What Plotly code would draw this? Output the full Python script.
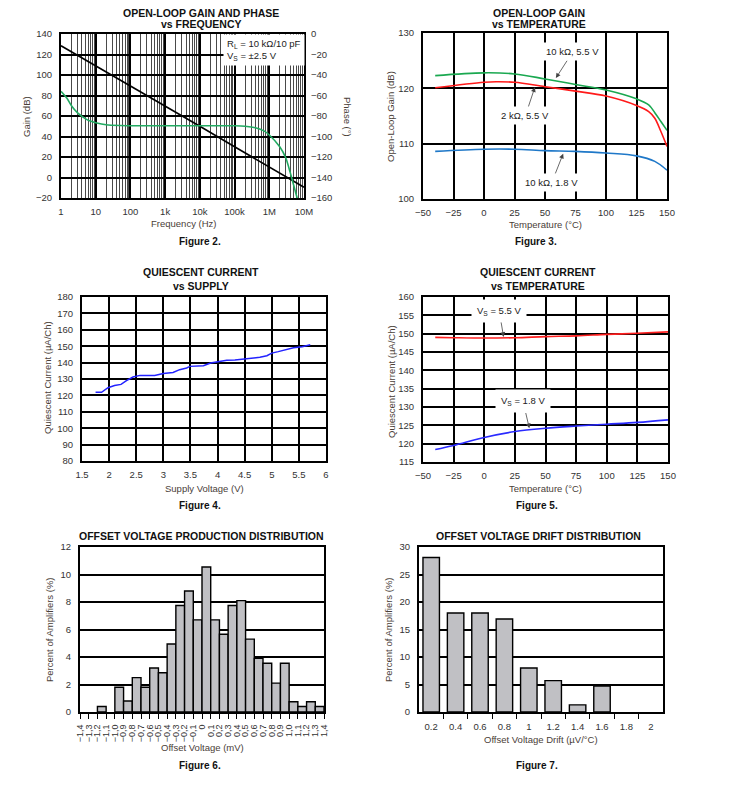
import plotly.graph_objects as go

# page body has an 8 px margin: size the figure to fit inside it and map
# reference pixel coordinates through that offset
OFF = 8
W, H = 732 - 2 * OFF, 802 - 2 * OFF


def X(px):
    return (px - OFF) / W


def Y(py):
    return 1 - (py - OFF) / H


FONT = "Liberation Sans"
TICKC = "#333333"
TITC = "#4a4038"

# ---------------- Figure 2 data ----------------
f2_freq_gain = [1, 10, 100, 1e3, 1e4, 1e5, 1e6, 1e7]
f2_gain = [128.5, 109, 89.5, 69.5, 50, 30, 10.5, -9.5]
f2_freq_phase = [1, 1.5, 2, 3, 5, 7, 10, 20, 50, 100, 1e3, 1e4, 1e5, 2e5,
                 4e5, 7e5, 1e6, 2e6, 3e6, 4e6, 5e6, 6e6, 7e6]
f2_phase = [-56, -63, -70, -77, -82.5, -85, -86.5, -88.5, -89.3, -89.5, -89.5,
            -89.5, -89.5, -90, -91.5, -94.5, -98.5, -110, -121, -135, -147,
            -157, -165]
f2_xticks = [1, 10, 100, 1e3, 1e4, 1e5, 1e6, 1e7]
f2_xticktext = ["1", "10", "100", "1k", "10k", "100k", "1M", "10M"]

# ---------------- Figure 3 data ----------------
f3_temp = [-40, 0, 25, 50, 75, 100, 125, 135, 140, 145, 150]
f3_green = [122.3, 122.8, 122.6, 121.7, 120.7, 119.7, 118.1, 117.0, 115.6, 114.0, 112.4]
f3_red_temp = [-40, 0, 10, 25, 50, 75, 100, 125, 135, 140, 145, 150]
f3_red = [120.1, 121.1, 121.2, 121.1, 120.3, 119.5, 118.6, 116.9, 115.8, 114.6, 112.2, 109.5]
f3_blue_temp = [-40, 0, 25, 50, 75, 100, 125, 140, 150]
f3_blue = [108.6, 109.0, 109.0, 108.75, 108.6, 108.3, 107.8, 106.8, 105.2]

# ---------------- Figure 4 data ----------------
f4_v = [1.75, 1.86, 1.98, 2.10, 2.22, 2.32, 2.44, 2.57, 2.69, 2.84, 3.00, 3.18,
        3.30, 3.43, 3.49, 3.62, 3.74, 3.87, 3.99, 4.17, 4.32, 4.48, 4.63, 4.78,
        4.91, 5.00, 5.12, 5.28, 5.40, 5.56, 5.71]
f4_iq = [121.9, 121.9, 124.7, 126.0, 126.7, 129.0, 131.2, 132.2, 132.2, 132.2,
         133.3, 134.0, 135.7, 136.7, 137.7, 138.1, 138.1, 139.8, 140.4, 141.4,
         141.6, 142.2, 142.4, 143.2, 144.2, 145.8, 146.7, 148.3, 149.1, 149.7, 150.9]

# ---------------- Figure 5 data ----------------
f5_temp = [-40, -25, 0, 25, 50, 75, 100, 125, 150]
f5_55 = [149.0, 148.9, 148.8, 148.9, 149.2, 149.4, 149.8, 150.1, 150.5]
f5_18 = [118.4, 119.5, 121.7, 123.3, 124.2, 124.8, 125.3, 125.8, 126.5]

# ---------------- Figure 6 data ----------------
f6_bin_left = [-1.4, -1.3, -1.2, -1.1, -1.0, -0.9, -0.8, -0.7, -0.6, -0.5, -0.4,
               -0.3, -0.2, -0.1, 0.0, 0.1, 0.2, 0.3, 0.4, 0.5, 0.6, 0.7, 0.8,
               0.9, 1.0, 1.1, 1.2, 1.3]
f6_pct = [0, 0, 0.4, 0, 1.8, 0.8, 2.5, 1.8, 3.2, 2.85, 4.95, 7.75, 8.8, 6.7,
          10.55, 6.7, 5.65, 7.75, 8.1, 5.3, 3.9, 3.55, 2.1, 3.55, 0.75, 0.4,
          0.75, 0.4]
f6_ticks = [-1.4, -1.3, -1.2, -1.1, -1.0, -0.9, -0.8, -0.7, -0.6, -0.5, -0.4,
            -0.3, -0.2, -0.1, 0.0, 0.1, 0.2, 0.3, 0.4, 0.5, 0.6, 0.7, 0.8, 0.9,
            1.0, 1.1, 1.2, 1.3, 1.4]
f6_ticktext = ["\u22121,4", "\u22121,3", "\u22121,2", "\u22121,1", "\u22121,0",
               "\u22120,9", "\u22120,8", "\u22120,7", "\u22120,6", "\u22120,5",
               "\u22120,4", "\u22120,3", "\u22120,2", "\u22120,1", "0", "0,1",
               "0,2", "0,3", "0,4", "0,5", "0,6", "0,7", "0,8", "0,9", "1,0",
               "1,1", "1,2", "1,3", "1,4"]

# ---------------- Figure 7 data ----------------
f7_drift = [0.2, 0.4, 0.6, 0.8, 1.0, 1.2, 1.4, 1.6, 1.8, 2.0]
f7_pct = [28.1, 18.0, 18.0, 16.9, 8.0, 5.7, 1.3, 4.7, 0, 0]
f7_ticktext = ["0.2", "0.4", "0.6", "0.8", "1", "1.2", "1.4", "1.6", "1.8", "2"]
f7_edges = [0.3, 0.5, 0.7, 0.9, 1.1, 1.3, 1.5, 1.7, 1.9]

fig = go.Figure()

# Figure 2 traces
fig.add_trace(go.Scatter(x=f2_freq_phase, y=f2_phase, mode="lines",
                         line=dict(color="#22aa62", width=1.6, shape="spline", smoothing=0.6),
                         xaxis="x", yaxis="y7", showlegend=False))
fig.add_trace(go.Scatter(x=f2_freq_gain, y=f2_gain, mode="lines",
                         line=dict(color="black", width=1.6),
                         xaxis="x", yaxis="y", showlegend=False))

# Figure 3 traces
fig.add_trace(go.Scatter(x=f3_temp, y=f3_green, mode="lines",
                         line=dict(color="#1aa850", width=1.6, shape="spline"),
                         xaxis="x2", yaxis="y2", showlegend=False))
fig.add_trace(go.Scatter(x=f3_red_temp, y=f3_red, mode="lines",
                         line=dict(color="#ff1a1a", width=1.6, shape="spline"),
                         xaxis="x2", yaxis="y2", showlegend=False))
fig.add_trace(go.Scatter(x=f3_blue_temp, y=f3_blue, mode="lines",
                         line=dict(color="#1f78c8", width=1.6, shape="spline"),
                         xaxis="x2", yaxis="y2", showlegend=False))

# Figure 4
fig.add_trace(go.Scatter(x=f4_v, y=f4_iq, mode="lines",
                         line=dict(color="#2222ff", width=1.5),
                         xaxis="x3", yaxis="y3", showlegend=False))

# Figure 5
fig.add_trace(go.Scatter(x=f5_temp, y=f5_55, mode="lines",
                         line=dict(color="#ff2020", width=1.6, shape="spline"),
                         xaxis="x4", yaxis="y4", showlegend=False))
fig.add_trace(go.Scatter(x=f5_temp, y=f5_18, mode="lines",
                         line=dict(color="#2a2aff", width=1.6, shape="spline"),
                         xaxis="x4", yaxis="y4", showlegend=False))

# Figure 6
f6_centers = [b + 0.05 for b in f6_bin_left]
fig.add_trace(go.Bar(x=f6_centers, y=f6_pct, width=0.1,
                     marker=dict(color="#c0c0c4",
                                 line=dict(color="black",
                                           width=[1.4 if v > 0 else 0 for v in f6_pct])),
                     xaxis="x5", yaxis="y5", showlegend=False))

# Figure 7
fig.add_trace(go.Bar(x=f7_drift, y=f7_pct, width=0.135,
                     marker=dict(color="#c0c0c4",
                                 line=dict(color="black",
                                           width=[1.4 if v > 0 else 0 for v in f7_pct])),
                     xaxis="x6", yaxis="y6", showlegend=False))

tickfont = dict(family=FONT, size=9.5, color=TICKC)


def ax(x0, x1, **kw):
    d = dict(domain=[X(x0), X(x1)], showline=True, mirror=True, linecolor="black",
             linewidth=2, zeroline=False, tickfont=tickfont, ticks="",
             ticklabelstandoff=4, showgrid=True, gridcolor="black", gridwidth=1.5,
             fixedrange=True, automargin=False)
    d.update(kw)
    return d


def ay(y0, y1, **kw):
    d = dict(domain=[Y(y1), Y(y0)], showline=True, mirror=True, linecolor="black",
             linewidth=2, zeroline=False, tickfont=tickfont, ticks="",
             ticklabelstandoff=5, showgrid=True, gridcolor="black", gridwidth=1.5,
             fixedrange=True, automargin=False)
    d.update(kw)
    return d


minor_log = [m * 10 ** e for e in range(0, 7) for m in range(2, 10)]

layout = dict(
    template="none",
    width=W, height=H, autosize=False, margin=dict(l=0, r=0, t=0, b=0, pad=0),
    paper_bgcolor="white", plot_bgcolor="white",
    font=dict(family=FONT, size=9.5, color=TICKC),
    xaxis=ax(61, 304, type="log", range=[0, 7], tickvals=f2_xticks,
             ticktext=f2_xticktext, anchor="y", gridwidth=2,
             minor=dict(tickvals=minor_log, showgrid=True, gridcolor="#4a4a4a",
                        gridwidth=1.2)),
    yaxis=ay(34, 198, range=[-20, 140], dtick=20, anchor="x"),
    yaxis7=dict(overlaying="y", side="right", range=[-160, 0], dtick=20,
                anchor="x", showgrid=False, zeroline=False, tickfont=tickfont,
                ticks="", ticklabelstandoff=6, showline=False, fixedrange=True,
                automargin=False),
    xaxis2=ax(423, 667, range=[-50, 150], dtick=25, anchor="y2"),
    yaxis2=ay(33, 199, range=[100, 130], dtick=10, anchor="x2"),
    xaxis3=ax(82, 326, range=[1.5, 6], dtick=0.5, anchor="y3"),
    yaxis3=ay(297, 461, range=[80, 180], dtick=10, anchor="x3"),
    xaxis4=ax(423, 668, range=[-50, 150], dtick=25, anchor="y4"),
    yaxis4=ay(297, 462, range=[115, 160], dtick=5, anchor="x4"),
    xaxis5=ax(80, 324, range=[-1.4, 1.4], tickvals=f6_ticks, ticktext=f6_ticktext,
              tickangle=-90, showgrid=False, ticks="outside", ticklen=5,
              tickcolor="black", tickwidth=1.2, ticklabelstandoff=2,
              tickfont=dict(family=FONT, size=9, color=TICKC), anchor="y5"),
    yaxis5=ay(547, 712, range=[0, 12], dtick=2, anchor="x5"),
    xaxis6=ax(419, 663, range=[0.1, 2.1], tickvals=f7_drift, ticktext=f7_ticktext,
              showgrid=False, ticklabelstandoff=5, anchor="y6",
              minor=dict(tickvals=f7_edges, ticks="outside", ticklen=5,
                         tickcolor="black", tickwidth=1.2, showgrid=False)),
    yaxis6=ay(547, 712, range=[0, 30], dtick=5, anchor="x6"),
    showlegend=False,
)
fig.update_layout(**layout)

ann = []


def txt(px, py, text, size=9.5, bold=False, color=TITC, angle=0, **kw):
    t = f"<b>{text}</b>" if bold else text
    d = dict(x=X(px), y=Y(py), xref="paper", yref="paper", text=t, showarrow=False,
             textangle=angle, xanchor="center", yanchor="middle",
             font=dict(family=FONT, size=size, color=color))
    d.update(kw)
    ann.append(d)


# Titles
TSZ = 10.5
txt(201, 13, "OPEN-LOOP GAIN AND PHASE", TSZ, True, "#111")
txt(201, 24.5, "vs FREQUENCY", TSZ, True, "#111")
txt(539, 13, "OPEN-LOOP GAIN", TSZ, True, "#111")
txt(539, 24.5, "vs TEMPERATURE", TSZ, True, "#111")
txt(201, 272, "QUIESCENT CURRENT", TSZ, True, "#111")
txt(201, 286, "vs SUPPLY", TSZ, True, "#111")
txt(538, 272, "QUIESCENT CURRENT", TSZ, True, "#111")
txt(538, 286, "vs TEMPERATURE", TSZ, True, "#111")
txt(201, 536, "OFFSET VOLTAGE PRODUCTION DISTRIBUTION", TSZ, True, "#111")
txt(538, 536, "OFFSET VOLTAGE DRIFT DISTRIBUTION", TSZ, True, "#111")

# Figure labels
for (px, py, t) in [(200, 242, "Figure 2."), (536, 242, "Figure 3."),
                    (200, 506, "Figure 4."), (537, 506, "Figure 5."),
                    (200, 765, "Figure 6."), (537, 765, "Figure 7.")]:
    txt(px, py, t, 10, True, "#111")

# Axis titles
txt(183, 223, "Frequency (Hz)")
txt(27, 117, "Gain (dB)", angle=-90)
txt(347, 117, "Phase (°)", angle=90)
txt(545, 224, "Temperature (°C)")
txt(391, 117, "Open-Loop Gain (dB)", angle=-90)
txt(204, 488, "Supply Voltage (V)")
txt(48, 378, "Quiescent Current (µA/Ch)", angle=-90)
txt(545, 488, "Temperature (°C)")
txt(391, 382, "Quiescent Current (µA/Ch)", angle=-90)
txt(203, 747, "Offset Voltage (mV)")
txt(49, 630, "Percent of Amplifiers (%)", angle=-90)
txt(541, 739, "Offset Voltage Drift (µV/°C)")
txt(388, 630, "Percent of Amplifiers (%)", angle=-90)

# Figure 2 condition box
ann.append(dict(x=X(223), y=Y(34), xref="paper", yref="paper", xanchor="left",
                yanchor="top", align="left", showarrow=False, bgcolor="white",
                borderpad=3,
                text="R<sub>L</sub> = 10 kΩ/10 pF<br>V<sub>S</sub> = ±2.5 V",
                font=dict(family=FONT, size=9.5, color="#222")))


def callout(xref, yref, tx, ty, tipx, tipy, text, pad=3):
    ann.append(dict(x=tipx, y=tipy, ax=tx, ay=ty, xref=xref, yref=yref,
                    axref=xref, ayref=yref, text=text, showarrow=True,
                    arrowhead=2, arrowsize=1.2, arrowwidth=0.8, arrowcolor="#444",
                    bgcolor="white", borderpad=pad,
                    font=dict(family=FONT, size=9.5, color="#222")))


# Figure 3 callouts
callout("x2", "y2", 72.8, 126.6, 58.9, 121.85, "10 kΩ, 5.5 V")
callout("x2", "y2", 34.0, 115.1, 41.7, 120.2, "2 kΩ, 5.5 V")
callout("x2", "y2", 55.6, 103.0, 64.9, 108.2, "10 kΩ, 1.8 V")

# Figure 5 callouts
callout("x4", "y4", 12.2, 156.2, 15.8, 149.1, "V<sub>S</sub> = 5.5 V", pad=5)
callout("x4", "y4", 31.7, 131.5, 36.8, 124.2, "V<sub>S</sub> = 1.8 V", pad=5)

fig.update_layout(annotations=ann)
fig.write_html("out.html")
